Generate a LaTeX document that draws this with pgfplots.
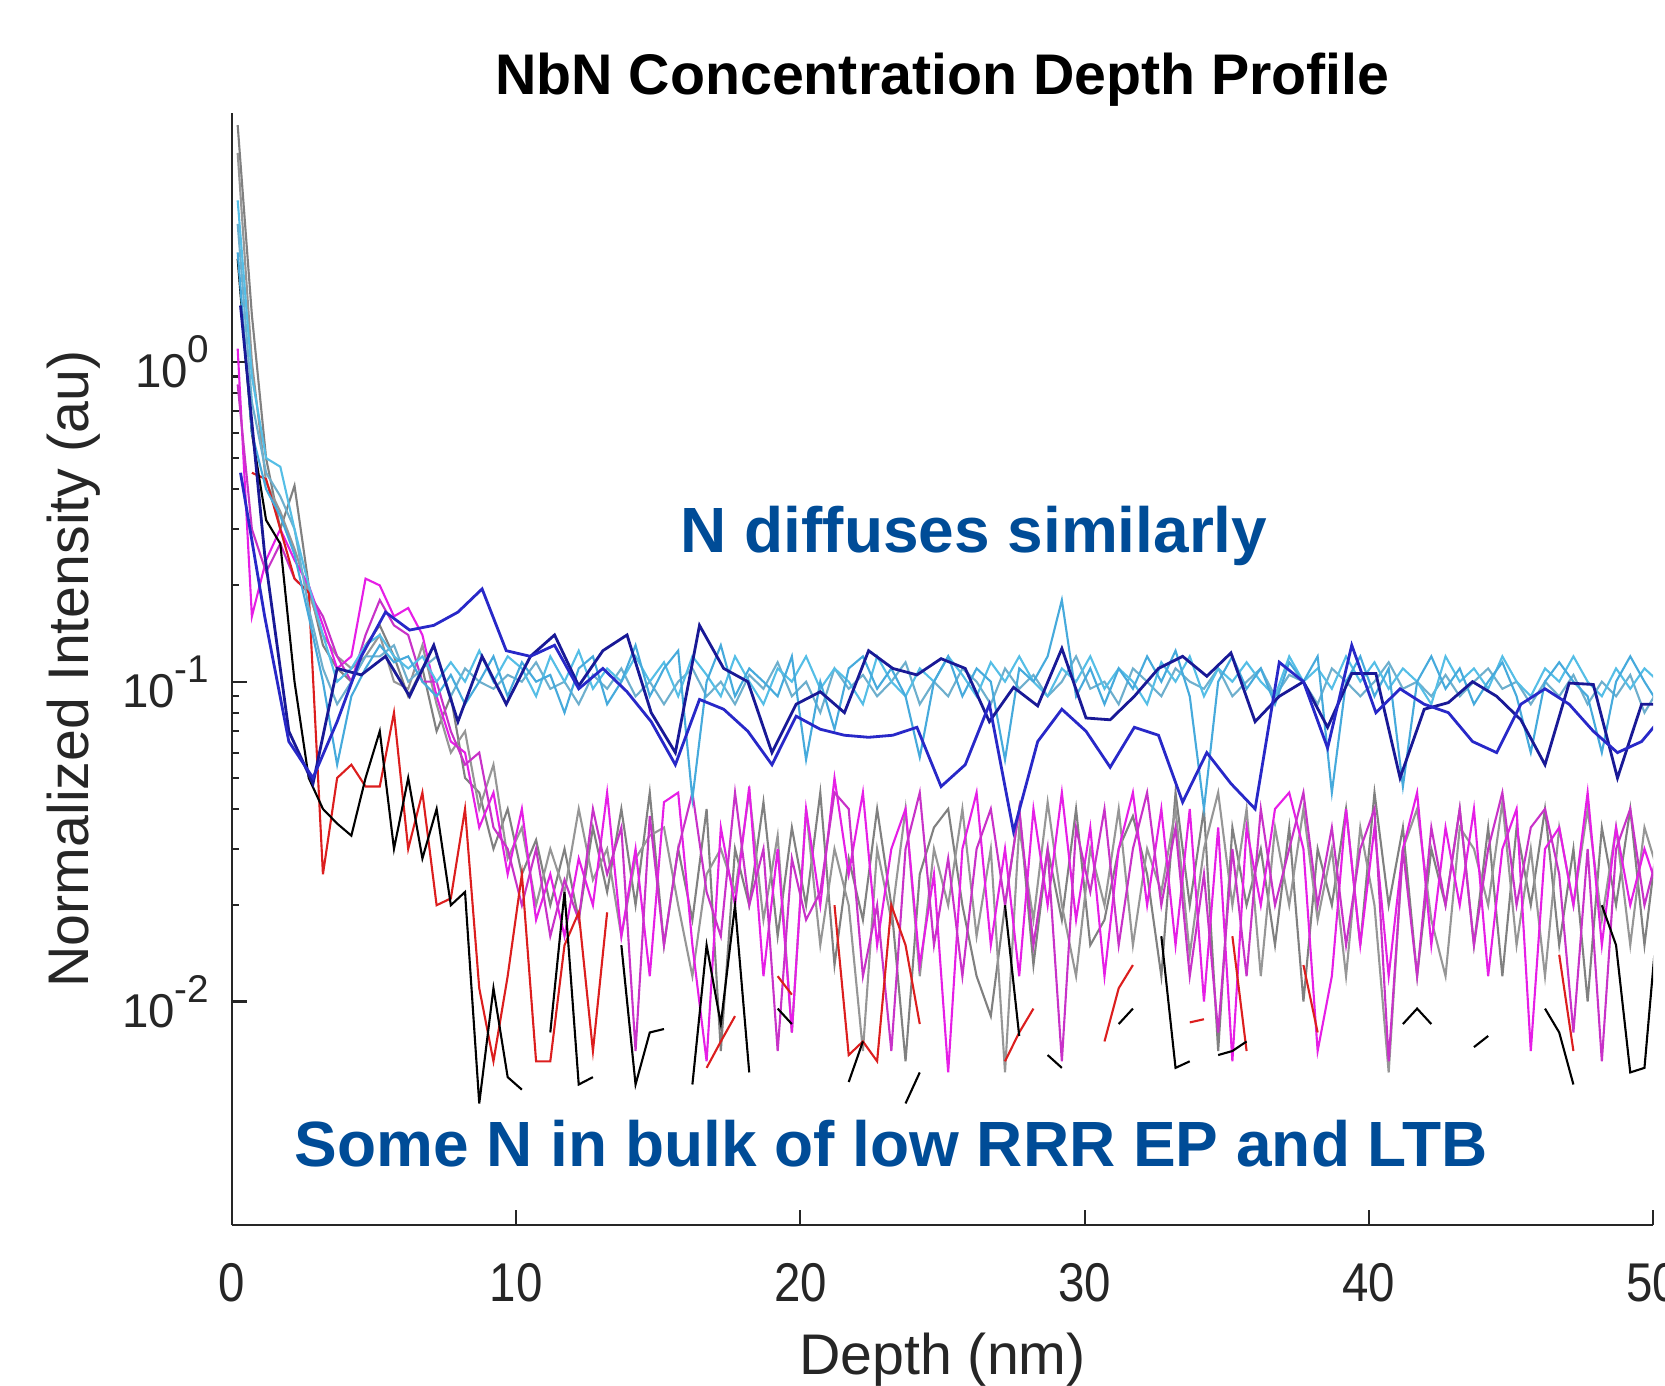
\documentclass[border=0pt]{standalone}
\usepackage{fontspec}
\setmainfont{Liberation Sans}
\usepackage{graphicx}
\usepackage{pgfplots}
\usepackage{pgfplotstable}
\pgfplotsset{compat=1.18}

\definecolor{axgray}{RGB}{38,38,38}
\definecolor{noteblue}{RGB}{0,76,151}
\definecolor{cyanA}{RGB}{85,190,230}
\definecolor{cyanB}{RGB}{110,175,205}
\definecolor{cyanC}{RGB}{70,170,220}
\definecolor{navyA}{RGB}{25,25,150}
\definecolor{navyB}{RGB}{40,40,200}
\definecolor{grayA}{RGB}{128,128,128}
\definecolor{grayB}{RGB}{150,150,150}
\definecolor{magA}{RGB}{230,30,230}
\definecolor{magB}{RGB}{200,50,200}
\definecolor{redA}{RGB}{220,30,30}

% dense profiles, 0.5 nm step (nan = no signal, line breaks)
\pgfplotstableread{
x c1 c2 c3 g1 g2 m1 m2 r k
0.2 3.2 2.7 2.2 5.5 4.5 1.1 0.85 nan 2.1
0.7 0.9 0.75 0.6 1.4 1.0 0.16 0.3 0.45 0.6
1.2 0.5 0.45 0.4 0.5 0.42 0.24 0.22 0.43 0.32
1.7 0.47 0.38 0.33 0.3 0.34 0.3 0.27 0.3 0.27
2.2 0.3 0.3 0.25 0.41 0.26 0.24 0.21 0.21 0.1
2.7 0.2 0.17 0.16 0.2 0.19 0.2 0.19 0.19 0.05
3.2 0.14 0.11 0.1 0.13 0.14 0.15 0.16 0.025 0.04
3.7 0.1 0.085 0.055 0.11 0.12 0.11 0.12 0.05 0.036
4.2 0.11 0.1 0.09 0.1 0.11 0.12 0.1 0.055 0.033
4.7 0.13 0.12 0.11 0.13 0.12 0.21 0.14 0.047 0.05
5.2 0.14 0.12 0.13 0.15 0.14 0.2 0.18 0.047 0.07
5.7 0.12 0.13 0.115 0.12 0.1 0.16 0.15 0.08 0.03
6.2 0.11 0.1 0.12 0.09 0.095 0.17 0.14 0.03 0.05
6.7 0.12 0.11 0.1 0.11 0.13 0.14 0.1 0.045 0.028
7.2 0.1 0.12 0.09 0.07 0.085 0.09 0.1 0.02 0.04
7.7 0.115 0.09 0.105 0.09 0.06 0.065 0.07 0.021 0.02
8.2 0.1 0.11 0.085 0.05 0.07 0.06 0.055 0.04 0.022
8.7 0.125 0.1 0.1 0.045 0.04 0.035 0.06 0.011 0.0048
9.2 0.1 0.095 0.12 0.03 0.055 0.045 0.035 0.0065 0.011
9.7 0.12 0.105 0.09 0.04 0.028 0.025 0.03 0.012 0.0058
10.2 0.11 0.1 0.115 0.025 0.035 0.04 0.02 0.025 0.0053
10.7 0.09 0.115 0.1 0.032 0.02 0.018 0.03 0.0065 nan
11.2 0.12 0.095 0.105 0.02 0.03 0.025 0.016 0.0065 0.008
11.7 0.1 0.1 0.08 0.03 0.022 0.016 0.024 0.015 0.022
12.2 0.125 0.085 0.11 0.018 0.04 0.028 0.018 0.019 0.0055
12.7 0.095 0.105 0.12 0.035 0.024 0.02 0.04 0.007 0.0058
13.2 0.11 0.095 0.085 0.022 0.03 0.045 0.025 0.019 nan
13.7 0.1 0.11 0.1 0.04 0.016 0.016 0.035 nan 0.015
14.2 0.12 0.09 0.13 0.02 0.028 0.03 0.007 nan 0.0055
14.7 0.1 0.1 0.09 0.045 0.033 0.012 0.038 nan 0.008
15.2 0.115 0.085 0.11 0.015 0.035 0.042 0.015 nan 0.0082
15.7 0.09 0.1 0.125 0.03 0.02 0.045 0.03 nan nan
16.2 0.12 0.11 0.043 0.018 0.012 0.015 0.045 nan 0.0055
16.7 0.105 0.09 0.1 0.04 0.025 0.0065 0.022 0.0062 0.015
17.2 0.09 0.1 0.13 0.007 0.03 0.035 0.016 0.0075 0.0085
17.7 0.12 0.085 0.09 0.03 0.022 0.02 0.045 0.009 0.02
18.2 0.1 0.105 0.11 0.02 0.045 0.047 0.02 nan 0.006
18.7 0.085 0.095 0.1 0.042 0.018 0.012 0.03 nan nan
19.2 0.11 0.115 0.09 0.016 0.033 0.03 0.007 0.012 0.0095
19.7 0.1 0.09 0.12 0.035 0.008 0.008 0.028 0.0105 0.0085
20.2 0.12 0.1 0.057 0.02 0.04 0.04 0.018 nan nan
20.7 0.095 0.08 0.1 0.045 0.015 0.02 0.022 nan nan
21.2 0.11 0.11 0.071 0.013 0.03 0.05 0.045 0.02 nan
21.7 0.1 0.095 0.11 0.028 0.02 0.025 0.04 0.0068 0.0056
22.2 0.085 0.105 0.12 0.018 0.007 0.045 0.012 0.0075 0.0075
22.7 0.12 0.09 0.095 0.04 0.03 0.015 0.02 0.0065 nan
23.2 0.1 0.1 0.11 0.02 0.018 0.03 0.007 0.02 nan
23.7 0.09 0.115 0.09 0.0065 0.04 0.04 0.03 0.015 0.0048
24.2 0.11 0.085 0.058 0.025 0.012 0.013 0.045 0.0085 0.006
24.7 0.1 0.1 0.1 0.035 0.03 0.025 0.015 nan nan
25.2 0.12 0.09 0.12 0.04 0.02 0.006 0.028 nan nan
25.7 0.105 0.11 0.09 0.02 0.04 0.03 0.012 nan nan
26.2 0.09 0.1 0.11 0.012 0.016 0.045 0.03 nan nan
26.7 0.115 0.085 0.1 0.009 0.03 0.015 0.04 nan nan
27.2 0.1 0.11 0.057 0.02 0.006 0.03 0.02 0.0065 0.02
27.7 0.12 0.095 0.11 0.04 0.035 0.012 0.04 0.008 0.0078
28.2 0.1 0.105 0.1 0.013 0.018 0.04 0.015 0.0095 nan
28.7 0.09 0.09 0.12 0.03 0.042 0.02 0.03 nan 0.0068
29.2 0.11 0.1 0.18 0.018 0.02 0.045 0.0065 nan 0.0062
29.7 0.1 0.12 0.09 0.04 0.012 0.018 0.035 nan nan
30.2 0.12 0.095 0.11 0.015 0.03 0.035 0.022 nan nan
30.7 0.095 0.1 0.085 0.018 0.02 0.012 0.04 0.0075 nan
31.2 0.11 0.085 0.11 0.03 0.04 0.03 0.015 0.011 0.0085
31.7 0.1 0.11 0.095 0.038 0.015 0.045 0.03 0.013 0.0095
32.2 0.085 0.1 0.12 0.025 0.03 0.02 0.045 nan nan
32.7 0.115 0.09 0.1 0.012 0.022 0.04 0.02 nan 0.016
33.2 0.1 0.11 0.125 0.045 0.04 0.015 0.035 nan 0.0062
33.7 0.12 0.1 0.09 0.02 0.014 0.04 0.012 0.0086 0.0065
34.2 0.09 0.095 0.04 0.04 0.03 0.01 0.025 0.0088 nan
34.7 0.11 0.11 0.1 0.007 0.045 0.035 0.008 nan 0.0068
35.2 0.1 0.09 0.12 0.035 0.02 0.0065 0.03 0.016 0.007
35.7 0.115 0.1 0.095 0.02 0.04 0.035 0.012 0.007 0.0075
36.2 0.1 0.11 0.11 0.03 0.012 0.02 0.04 nan nan
36.7 0.09 0.09 0.085 0.015 0.035 0.04 0.02 nan nan
37.2 0.12 0.105 0.115 0.035 0.02 0.045 0.03 nan nan
37.7 0.1 0.1 0.1 0.01 0.04 0.03 0.045 0.013 nan
38.2 0.11 0.085 0.12 0.03 0.018 0.007 0.02 0.008 nan
38.7 0.095 0.11 0.045 0.02 0.03 0.012 0.035 nan nan
39.2 0.12 0.1 0.1 0.04 0.012 0.04 0.015 nan nan
39.7 0.1 0.09 0.12 0.015 0.035 0.015 0.03 nan nan
40.2 0.115 0.1 0.09 0.045 0.02 0.035 0.04 nan nan
40.7 0.095 0.115 0.11 0.02 0.006 0.012 0.0065 nan nan
41.2 0.11 0.095 0.047 0.035 0.03 0.03 0.03 nan 0.0085
41.7 0.1 0.1 0.1 0.012 0.04 0.045 0.012 nan 0.0095
42.2 0.085 0.09 0.12 0.03 0.018 0.015 0.035 nan 0.0085
42.7 0.12 0.105 0.095 0.02 0.012 0.035 0.02 nan nan
43.2 0.1 0.09 0.11 0.04 0.035 0.02 0.04 nan nan
43.7 0.11 0.1 0.085 0.015 0.03 0.04 0.015 nan 0.0072
44.2 0.095 0.11 0.1 0.035 0.02 0.012 0.03 nan 0.0078
44.7 0.12 0.095 0.115 0.012 0.042 0.03 0.045 nan nan
45.2 0.1 0.1 0.09 0.035 0.015 0.04 0.02 nan nan
45.7 0.09 0.085 0.06 0.02 0.03 0.007 0.035 nan nan
46.2 0.11 0.1 0.1 0.04 0.012 0.03 0.04 nan 0.0095
46.7 0.1 0.09 0.115 0.015 0.035 0.035 0.025 0.014 0.008
47.2 0.12 0.105 0.1 0.03 0.02 0.02 0.008 0.007 0.0055
47.7 0.1 0.085 0.09 0.01 0.04 0.045 0.03 nan nan
48.2 0.09 0.1 0.06 0.035 0.018 0.015 0.0065 nan 0.02
48.7 0.11 0.09 0.1 0.02 0.035 0.035 0.03 nan 0.015
49.2 0.095 0.105 0.12 0.04 0.015 0.02 0.04 nan 0.006
49.7 0.11 0.08 0.1 0.015 0.035 0.03 0.02 nan 0.0062
50.2 0.1 0.095 0.085 0.035 0.025 0.022 0.03 nan 0.02
}\dense

% coarser profiles (dark blue)
\pgfplotstableread{
x na nb
0.3 1.5 0.45
1.15 0.25 0.16
2.0 0.07 0.065
2.85 0.048 0.05
3.7 0.11 0.075
4.55 0.105 0.12
5.4 0.12 0.165
6.25 0.09 0.145
7.1 0.13 0.15
7.95 0.075 0.165
8.8 0.12 0.195
9.65 0.085 0.125
10.5 0.12 0.12
11.35 0.14 0.13
12.2 0.097 0.095
13.05 0.125 0.11
13.9 0.14 0.093
14.75 0.08 0.075
15.6 0.06 0.055
16.45 0.15 0.088
17.3 0.11 0.082
18.15 0.1 0.07
19.0 0.06 0.055
19.85 0.085 0.078
20.7 0.093 0.071
21.55 0.08 0.068
22.4 0.125 0.067
23.25 0.11 0.068
24.1 0.105 0.072
24.95 0.118 0.047
25.8 0.11 0.055
26.65 0.075 0.085
27.5 0.096 0.034
28.35 0.084 0.065
29.2 0.127 0.082
30.05 0.077 0.07
30.9 0.076 0.054
31.75 0.09 0.072
32.6 0.11 0.068
33.45 0.12 0.042
34.3 0.104 0.06
35.15 0.123 0.048
36.0 0.075 0.04
36.85 0.09 0.115
37.7 0.1 0.1
38.55 0.072 0.062
39.4 0.106 0.13
40.25 0.106 0.08
41.1 0.05 0.095
41.95 0.082 0.085
42.8 0.086 0.08
43.65 0.1 0.065
44.5 0.09 0.06
45.35 0.076 0.085
46.2 0.055 0.095
47.05 0.099 0.085
47.9 0.098 0.07
48.75 0.05 0.06
49.6 0.085 0.065
50.45 0.085 0.08
}\coarse

\begin{document}
\begin{tikzpicture}
\begin{axis}[
    at={(0,0)}, anchor=south west,
    scale only axis,
    width=14.21cm, height=11.12cm,
    ymode=log,
    xmin=0, xmax=50,
    ymin=2e-3, ymax=6,
    axis lines=left,
    axis line style={-, axgray, line width=0.7pt},
    tick align=inside,
    major tick length=0.15cm,
    minor tick length=0.075cm,
    tick style={axgray, line width=0.6pt},
    xtick={0,10,20,30,40,50},
    xticklabels={\scalebox{1}[1.15]{0},\scalebox{1}[1.15]{10},\scalebox{1}[1.15]{20},\scalebox{1}[1.15]{30},\scalebox{1}[1.15]{40},\scalebox{1}[1.15]{50}},
    x tick label style={font=\fontsize{13.5}{15}\selectfont, text=axgray, anchor=north, inner sep=0pt, yshift=-0.38cm},
    ytick={0.01,0.1,1},
    yticklabels={{10\raisebox{0.25cm}{\fontsize{11}{12}\selectfont -2}},{10\raisebox{0.25cm}{\fontsize{11}{12}\selectfont -1}},{10\raisebox{0.25cm}{\fontsize{11}{12}\selectfont 0}}},
    y tick label style={font=\fontsize{13.5}{15}\selectfont, text=axgray, anchor=east, inner sep=0pt, xshift=-0.22cm},
    title={NbN Concentration Depth Profile},
    title style={font=\bfseries\fontsize{16.3}{18}\selectfont, at={(0.5,1)}, anchor=base, inner sep=0pt, yshift=-0.03cm},
    xlabel={Depth (nm)},
    xlabel style={font=\fontsize{16.3}{18}\selectfont, text=axgray, at={(axis description cs:0.5,0)}, anchor=base, yshift=-1.49cm},
    ylabel={Normalized Intensity (au)},
    ylabel style={font=\fontsize{16.3}{18}\selectfont, text=axgray, at={(axis description cs:-0.1112,0.5)}, anchor=center},
    unbounded coords=jump,
    clip=true,
    every axis plot/.append style={line width=0.6pt},
]
\addplot[grayA] table[x=x,y=g1] {\dense};
\addplot[grayB] table[x=x,y=g2] {\dense};
\addplot[magA] table[x=x,y=m1] {\dense};
\addplot[magB] table[x=x,y=m2] {\dense};
\addplot[redA] table[x=x,y=r] {\dense};
\addplot[black] table[x=x,y=k] {\dense};
\addplot[cyanB] table[x=x,y=c2] {\dense};
\addplot[cyanA] table[x=x,y=c1] {\dense};
\addplot[cyanC] table[x=x,y=c3] {\dense};
\addplot[navyA, line width=0.8pt] table[x=x,y=na] {\coarse};
\addplot[navyB, line width=0.8pt] table[x=x,y=nb] {\coarse};

\node[font=\bfseries\fontsize{18.2}{20}\selectfont, text=noteblue, anchor=base west, inner sep=0pt] at (rel axis cs:0.3153,0.605) {N diffuses similarly};
\node[font=\bfseries\fontsize{18.2}{20}\selectfont, text=noteblue, anchor=base west, inner sep=0pt] at (rel axis cs:0.0436,0.053) {Some N in bulk of low RRR EP and LTB};
\end{axis}
\pgfresetboundingbox
\path[use as bounding box] (-2.32,-1.60) rectangle (14.33,12.25);
\end{tikzpicture}
\end{document}
